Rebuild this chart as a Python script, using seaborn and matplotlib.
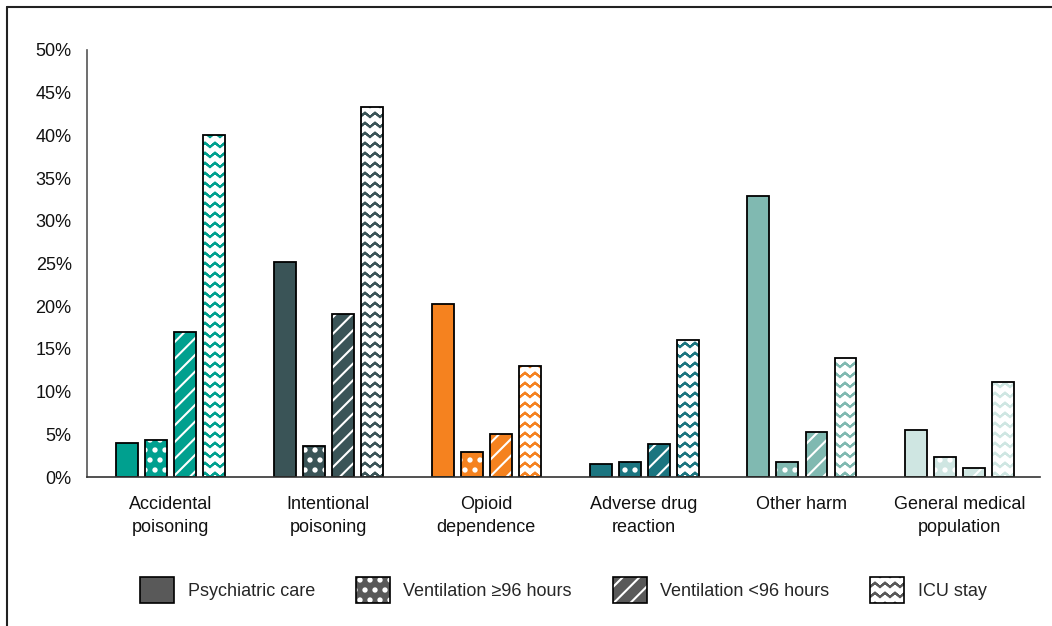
import numpy as np
import pandas as pd
import matplotlib
matplotlib.use("Agg")
import matplotlib.pyplot as plt
import seaborn as sns
import matplotlib.patches as mpatches
from matplotlib.lines import Line2D
from matplotlib import hatch as mhatch
from matplotlib.path import Path
from matplotlib.ticker import FuncFormatter

# ---------------- data ----------------
categories = ["Accidental\npoisoning", "Intentional\npoisoning", "Opioid\ndependence",
              "Adverse drug\nreaction", "Other harm", "General medical\npopulation"]
measures = ["Psychiatric care", "Ventilation ≥96 hours", "Ventilation <96 hours", "ICU stay"]
psychiatric_care = [4.0, 25.2, 20.3, 1.5, 32.9, 5.5]
ventilation_96_plus = [4.3, 3.6, 2.9, 1.8, 1.8, 2.4]
ventilation_under_96 = [17.0, 19.1, 5.0, 3.9, 5.3, 1.0]
icu_stay = [40.0, 43.3, 13.0, 16.0, 13.9, 11.1]
y_ticks = [0, 5, 10, 15, 20, 25, 30, 35, 40, 45, 50]

group_colors = ["#00A08F", "#3A5457", "#F5821F", "#1B7580", "#80B9B1", "#CFE6E2"]
legend_gray = "#595959"

# ---------------- custom hatch patterns ----------------
class ZigZagHatch(mhatch.HatchPatternBase):
    """Rows of chevrons drawn as zero-area polylines (forward then back)."""
    def __init__(self, hatch, density):
        n = hatch.count("z")
        self.rows = n * 10
        self.periods = n * 10
        self.pts = 2 * self.periods + 1
        self.per_row = 2 * self.pts - 1
        self.num_vertices = self.rows * self.per_row if n else 0

    def set_vertices_and_codes(self, vertices, codes):
        xs = np.linspace(0, 1, self.pts)
        amp = 0.42 / self.rows
        off = np.where(np.arange(self.pts) % 2 == 0, 0.0, amp)
        fx = np.concatenate([xs, xs[::-1][1:]])
        fo = np.concatenate([off, off[::-1][1:]])
        for r in range(self.rows):
            sl = slice(r * self.per_row, (r + 1) * self.per_row)
            vertices[sl, 0] = fx
            vertices[sl, 1] = (r + 0.3) / self.rows + fo
            codes[sl] = Path.LINETO
            codes[r * self.per_row] = Path.MOVETO


class SmallDots(mhatch.Circles):
    size = 0.16
    filled = True

    def __init__(self, hatch, density):
        self.num_rows = hatch.count("d") * 10
        super().__init__(hatch, density)


mhatch._hatch_types.append(ZigZagHatch)
mhatch._hatch_types.append(SmallDots)
_orig_validate = mhatch._validate_hatch_pattern
mhatch._validate_hatch_pattern = lambda h: _orig_validate(
    None if h is None else h.replace("z", "").replace("d", ""))

hatches = ["", "d", "//", "z"]

# ---------------- style ----------------
sns.set_style("white")
plt.rcParams["font.family"] = ["Liberation Sans", "DejaVu Sans"]
plt.rcParams["hatch.linewidth"] = 1.5
FS = 13

df = pd.DataFrame({
    "category": categories * 4,
    "measure": np.repeat(measures, len(categories)),
    "value": psychiatric_care + ventilation_96_plus + ventilation_under_96 + icu_stay,
})

fig = plt.figure(figsize=(10.52, 6.26), dpi=100)
ax = fig.add_axes([87 / 1052, 1 - 477 / 626, (1040 - 87) / 1052, (477 - 50) / 626])

sns.barplot(data=df, x="category", y="value", hue="measure", order=categories,
            hue_order=measures, width=0.735, gap=0.245, saturation=1, legend=False,
            edgecolor="black", linewidth=1.3, errorbar=None, ax=ax)


def style_patch(p, face, hatch, hcolor):
    p.set_facecolor(face)
    p.set_hatch(hatch if hatch else None)
    p.set_edgecolor("black")
    if hatch:
        if hasattr(p, "set_hatchcolor"):
            p.set_hatchcolor(hcolor)
        else:
            p._hatch_color = matplotlib.colors.to_rgba(hcolor)


for mi, cont in enumerate(ax.containers):
    for bar in cont:
        ci = int(round(bar.get_x() + bar.get_width() / 2))
        col = group_colors[ci]
        if mi == 0:
            style_patch(bar, col, "", None)
        elif mi in (1, 2):
            style_patch(bar, col, hatches[mi], "white")
        else:
            style_patch(bar, "white", hatches[mi], col)

ax.set_ylim(0, 50)
ax.set_xlim(-0.529, 5.508)
ax.set_yticks(y_ticks)
ax.yaxis.set_major_formatter(FuncFormatter(lambda v, p: f"{v:.0f}%"))
ax.set_xlabel("")
ax.set_ylabel("")
for s in ["top", "right"]:
    ax.spines[s].set_visible(False)
ax.spines["left"].set_color("#555555")
ax.spines["left"].set_linewidth(1.2)
ax.spines["bottom"].set_color("#333333")
ax.spines["bottom"].set_linewidth(1.2)
ax.tick_params(axis="y", direction="out", length=5, width=1.2, color="#555555",
               labelsize=FS, pad=6, labelcolor="#111111")
ax.tick_params(axis="x", length=0, labelsize=FS, pad=14, labelcolor="#111111")
for t in ax.get_xticklabels():
    t.set_linespacing(1.4)

# legend
handles = []
for mi, m in enumerate(measures):
    p = mpatches.Patch(label=m)
    if mi == 0:
        style_patch(p, legend_gray, "", None)
    elif mi in (1, 2):
        style_patch(p, legend_gray, hatches[mi], "white")
    else:
        style_patch(p, "white", hatches[mi], legend_gray)
    p.set_linewidth(1.2)
    handles.append(p)

fig.legend(handles=handles, loc="center", bbox_to_anchor=(0.5355, 1 - 590 / 626), ncol=4,
           frameon=False, fontsize=FS, handlelength=1.9, handleheight=1.9,
           handletextpad=0.75, columnspacing=2.25)

# outer frame (top and left edges)
fig.add_artist(Line2D([7 / 1052, 7 / 1052], [0, 1 - 7 / 626], transform=fig.transFigure,
                      color="#222222", lw=1.5))
fig.add_artist(Line2D([7 / 1052, 1], [1 - 7 / 626, 1 - 7 / 626], transform=fig.transFigure,
                      color="#222222", lw=1.5))

fig.savefig("out.png", dpi=100)
